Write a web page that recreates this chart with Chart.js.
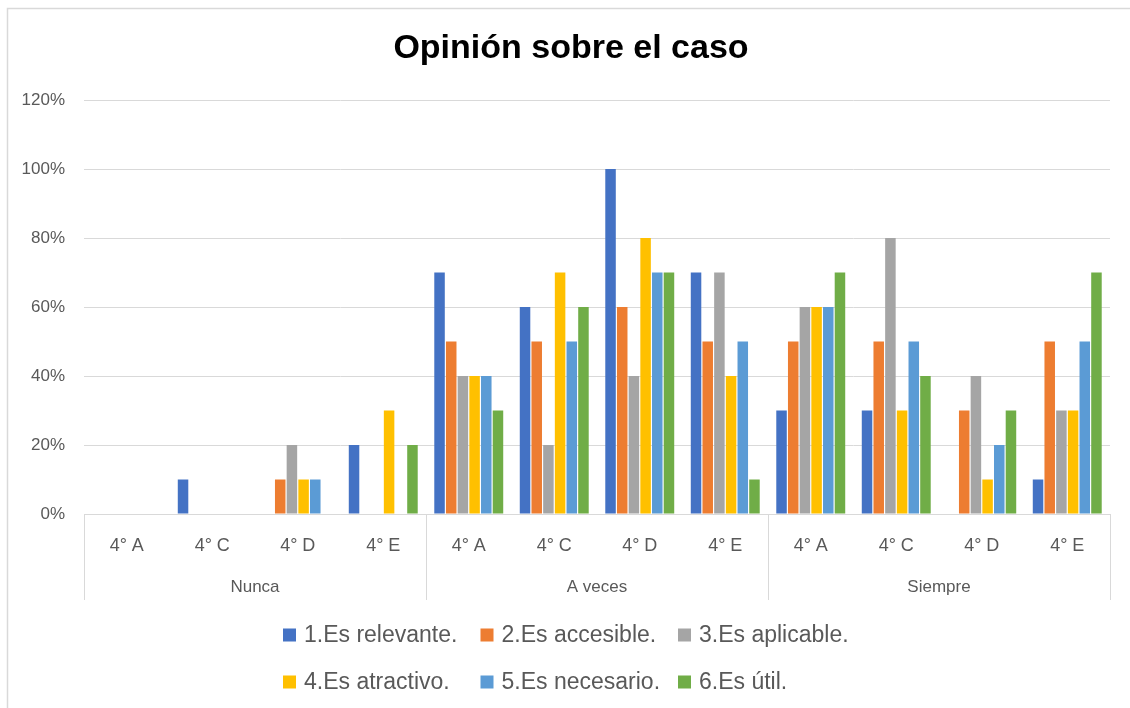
<!DOCTYPE html>
<html>
<head>
<meta charset="utf-8">
<title>Opinión sobre el caso</title>
<script src="https://cdn.jsdelivr.net/npm/chart.js@4/dist/chart.umd.min.js"></script>
<style>
  html, body { margin: 0; padding: 0; background: #fff; }
  canvas { display: block; }
</style>
</head>
<body>
<canvas id="opinionChart" width="1130" height="708"></canvas>
<script>
// categories: courses inside each answer group
var groups = ['Nunca', 'A veces', 'Siempre'];
var courses = ['4° A', '4° C', '4° D', '4° E'];
var yTicks = [0, 20, 40, 60, 80, 100, 120];

// series values (%), order: Nunca A/C/D/E, A veces A/C/D/E, Siempre A/C/D/E
var relevante  = [0, 10, 0, 20,   70, 60, 100, 70,   30, 30, 0, 10];
var accesible  = [0, 0, 10, 0,    50, 50, 60, 50,    50, 50, 30, 50];
var aplicable  = [0, 0, 20, 0,    40, 20, 40, 70,    60, 80, 40, 30];
var atractivo  = [0, 0, 10, 30,   40, 70, 80, 40,    60, 30, 10, 30];
var necesario  = [0, 0, 10, 0,    40, 50, 70, 50,    60, 50, 20, 50];
var util       = [0, 0, 0, 20,    30, 60, 70, 10,    70, 40, 30, 70];

var seriesNames = ['1.Es relevante.', '2.Es accesible.', '3.Es aplicable.',
                   '4.Es atractivo.', '5.Es necesario.', '6.Es útil.'];
var seriesData = [relevante, accesible, aplicable, atractivo, necesario, util];
var colors = ['#4472C4', '#ED7D31', '#A5A5A5', '#FFC000', '#5B9BD5', '#70AD47'];
var chartTitle = 'Opinión sobre el caso';

var labels = [];
groups.forEach(function () { courses.forEach(function (c) { labels.push(c); }); });

var FONT = "'Liberation Sans', Arial, sans-serif";
var GRID = '#d9d9d9';
var TEXT = '#595959';

// frame, title, group labels on the category axis and the legend (Excel style)
var excelBits = {
  id: 'excelBits',
  beforeDraw: function (chart) {
    var ctx = chart.ctx;
    ctx.save();
    ctx.strokeStyle = GRID;
    ctx.lineWidth = 1.5;
    ctx.beginPath();
    ctx.moveTo(7.5, chart.height);
    ctx.lineTo(7.5, 8.5);
    ctx.lineTo(chart.width, 8.5);
    ctx.stroke();
    ctx.restore();
  },
  afterDraw: function (chart) {
    var ctx = chart.ctx;
    var x = chart.scales.x;
    var area = chart.chartArea;
    var per = courses.length;
    ctx.save();
    // title
    ctx.fillStyle = '#000';
    ctx.font = 'bold 34px ' + FONT;
    ctx.textAlign = 'center';
    ctx.textBaseline = 'middle';
    ctx.fillText(chartTitle, 571, 49);
    // separators between groups
    ctx.strokeStyle = GRID;
    ctx.lineWidth = 1;
    for (var g = 0; g <= groups.length; g++) {
      var px;
      if (g === 0) px = area.left;
      else if (g === groups.length) px = area.right;
      else px = (x.getPixelForValue(g * per - 1) + x.getPixelForValue(g * per)) / 2;
      px = Math.round(px) + 0.5;
      ctx.beginPath();
      ctx.moveTo(px, area.bottom);
      ctx.lineTo(px, area.bottom + 86);
      ctx.stroke();
    }
    // group labels
    ctx.fillStyle = TEXT;
    ctx.font = '17px ' + FONT;
    groups.forEach(function (name, g) {
      var cx = (x.getPixelForValue(g * per) + x.getPixelForValue(g * per + per - 1)) / 2;
      ctx.fillText(name, cx, 587);
    });
    // legend: 3 columns, 2 rows
    ctx.font = '23px ' + FONT;
    ctx.textAlign = 'left';
    chart.data.datasets.forEach(function (ds, i) {
      var col = i % 3, row = Math.floor(i / 3);
      var lx = 283 + col * 197.5;
      var ly = 635 + row * 47;
      ctx.fillStyle = ds.backgroundColor;
      ctx.fillRect(lx, ly - 6.5, 13, 13);
      ctx.fillStyle = TEXT;
      ctx.fillText(ds.label, lx + 21, ly + 1);
    });
    ctx.restore();
  }
};

var ctx = document.getElementById('opinionChart').getContext('2d');
var chart = new Chart(ctx, {
  type: 'bar',
  data: {
    labels: labels,
    datasets: seriesData.map(function (d, i) {
      return {
        label: seriesNames[i],
        data: d,
        backgroundColor: colors[i],
        borderWidth: 0,
        barPercentage: 0.9,
        categoryPercentage: 0.82
      };
    })
  },
  options: {
    responsive: false,
    animation: false,
    devicePixelRatio: 1,
    layout: { padding: { left: 0, right: 20, top: 100, bottom: 0 } },
    plugins: {
      legend: { display: false },
      tooltip: { enabled: false },
      title: { display: false }
    },
    scales: {
      x: {
        grid: { display: false, drawTicks: false },
        border: { display: true, color: GRID, width: 1 },
        ticks: {
          color: TEXT,
          font: { family: FONT, size: 18 },
          padding: 21,
          autoSkip: false,
          maxRotation: 0
        },
        afterFit: function (s) { s.height = 194; }
      },
      y: {
        min: 0,
        max: 120,
        afterBuildTicks: function (s) { s.ticks = yTicks.map(function (v) { return { value: v }; }); },
        grid: { color: GRID, lineWidth: 1, drawTicks: false },
        border: { display: false },
        ticks: {
          color: TEXT,
          font: { family: FONT, size: 17 },
          padding: 19,
          callback: function (v) { return v + '%'; }
        },
        afterFit: function (s) { s.width = 84; }
      }
    }
  },
  plugins: [excelBits]
});
</script>
</body>
</html>
